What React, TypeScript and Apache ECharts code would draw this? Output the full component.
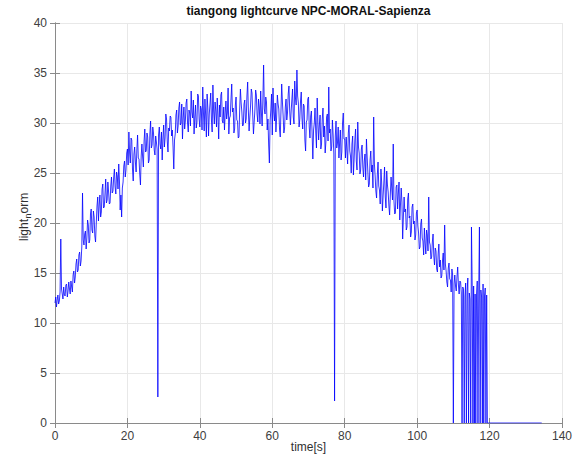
import React, { useEffect, useRef } from "react";
import * as echarts from "echarts";

// sampling step of the light curve (seconds)
const sampleStep = 0.2;

// normalised light values, one every 0.2 s starting at t = 0 (up to 119.8 s)
const light: number[] = [
  // 0 - 3.8
  12.0, 12.6, 11.6, 12.3, 12.8, 11.9, 12.2, 13.1, 18.4, 13.4, 12.9, 12.4, 13.6, 12.8, 12.7, 13.8, 13.9, 12.6, 13.2, 14.1,
  // 4 - 7.8
  13.4, 12.9, 14.2, 13.6, 13.1, 14.8, 15.2, 14.0, 14.6, 15.9, 16.4, 15.1, 15.3, 16.8, 17.1, 15.7, 16.2, 17.6, 23.0, 18.3,
  // 8 - 11.8
  17.8, 18.9, 19.2, 17.4, 18.5, 20.3, 19.8, 18.0, 18.3, 20.9, 21.4, 19.3, 19.0, 21.2, 20.6, 18.7, 18.1, 20.0, 21.7, 22.6,
  // 12 - 15.8
  20.2, 21.8, 22.8, 20.6, 21.1, 23.4, 23.9, 21.5, 21.6, 22.9, 24.4, 22.0, 22.3, 24.1, 23.1, 21.9, 22.0, 23.7, 24.6, 23.0,
  // 16 - 19.8
  23.2, 24.5, 25.4, 23.6, 22.9, 25.1, 24.7, 23.4, 25.9, 24.2, 21.3, 22.8, 20.6, 23.5, 24.1, 25.7, 26.2, 24.6, 25.3, 27.0,
  // 20 - 23.8
  27.4, 25.8, 29.1, 27.0, 26.0, 28.5, 28.3, 25.4, 24.2, 26.9, 27.6, 26.1, 25.1, 27.3, 28.8, 26.5, 26.4, 24.9, 23.8, 26.7,
  // 24 - 27.8
  27.9, 26.6, 25.6, 28.2, 29.4, 27.1, 27.2, 29.0, 28.6, 26.0, 26.3, 28.9, 30.2, 27.5, 27.8, 29.6, 29.0, 27.3, 26.8, 28.7,
  // 28 - 31.8
  28.1, 27.4, 2.6, 28.8, 29.6, 27.9, 27.4, 29.1, 26.3, 28.4, 29.8, 27.6, 28.5, 30.9, 30.4, 28.2, 27.1, 29.5, 29.2, 30.7,
  // 32 - 35.8
  30.6, 28.7, 29.3, 27.6, 25.4, 28.3, 28.9, 30.8, 31.3, 29.0, 29.7, 31.5, 32.1, 29.8, 30.0, 31.9, 28.4, 30.5, 31.6, 29.4,
  // 36 - 39.8
  30.2, 32.0, 32.4, 30.0, 29.1, 31.3, 31.0, 29.7, 33.2, 31.1, 30.5, 32.3, 28.9, 30.6, 31.8, 29.5, 30.1, 32.9, 32.7, 30.4,
  // 40 - 43.8
  29.6, 31.7, 31.4, 29.3, 33.6, 31.0, 29.2, 32.4, 30.8, 28.6, 32.9, 31.5, 28.7, 30.9, 31.9, 33.0, 30.3, 29.1, 33.8, 31.2,
  // 44 - 47.8
  29.9, 32.1, 31.2, 29.6, 32.5, 30.7, 28.4, 31.8, 30.6, 32.8, 33.1, 30.2, 30.0, 31.6, 29.3, 31.0, 32.2, 30.4, 31.0, 33.5,
  // 48 - 51.8
  28.9, 30.5, 30.7, 32.4, 33.9, 31.1, 31.5, 29.0, 29.4, 31.8, 32.6, 30.3, 30.2, 28.5, 28.6, 31.4, 33.4, 32.0, 31.1, 29.7,
  // 52 - 55.8
  29.8, 31.9, 32.3, 30.0, 30.4, 32.7, 34.1, 31.2, 29.2, 30.6, 31.7, 33.4, 33.0, 30.8, 28.9, 30.1, 31.3, 33.3, 32.8, 30.9,
  // 56 - 59.8
  30.1, 32.4, 31.6, 29.9, 33.2, 31.0, 29.7, 32.3, 35.8, 31.4, 30.9, 32.6, 32.1, 29.3, 30.4, 27.8, 26.0, 30.2, 31.3, 32.9,
  // 60 - 63.8
  28.8, 33.5, 31.1, 30.2, 32.0, 29.1, 30.6, 32.8, 31.9, 31.4, 29.4, 28.6, 31.2, 33.9, 32.1, 30.7, 29.0, 29.5, 31.6, 32.4,
  // 64 - 67.8
  30.3, 31.0, 32.9, 33.7, 31.3, 29.8, 31.1, 32.3, 33.4, 30.6, 29.9, 34.2, 32.5, 31.8, 35.3, 32.7, 32.0, 29.6, 30.4, 32.2,
  // 68 - 71.8
  33.1, 30.5, 29.4, 31.9, 31.7, 28.3, 27.2, 30.1, 30.3, 32.4, 32.6, 29.6, 28.5, 30.7, 31.2, 28.9, 26.4, 29.3, 30.0, 31.5,
  // 72 - 75.8
  29.1, 27.5, 32.5, 30.0, 28.3, 29.8, 30.8, 27.4, 27.9, 30.4, 31.5, 28.6, 29.7, 27.0, 28.1, 30.6, 30.9, 28.2, 33.6, 29.0,
  // 76 - 79.8
  29.4, 27.2, 27.6, 30.3, 28.8, 26.9, 2.2, 28.7, 30.2, 27.5, 28.0, 29.6, 26.5, 28.1, 29.3, 26.3, 27.1, 30.0, 31.0, 28.4,
  // 80 - 83.8
  28.4, 26.5, 28.6, 27.3, 25.9, 29.0, 29.8, 27.2, 26.7, 25.0, 27.9, 28.7, 24.8, 26.4, 28.3, 29.4, 26.2, 25.3, 30.1, 27.6,
  // 84 - 87.8
  27.0, 24.9, 25.3, 27.4, 27.8, 25.6, 24.6, 26.2, 26.9, 24.3, 28.4, 26.6, 25.0, 23.6, 23.9, 26.3, 27.2, 25.1, 25.8, 23.5,
  // 88 - 91.8
  30.6, 25.9, 24.7, 23.2, 22.5, 24.8, 26.1, 23.7, 23.3, 21.9, 25.4, 24.1, 21.2, 22.7, 24.0, 25.6, 22.6, 21.5, 25.2, 23.8,
  // 92 - 95.8
  23.1, 21.7, 20.8, 22.9, 24.6, 23.4, 22.3, 27.9, 22.2, 20.9, 21.0, 23.6, 23.8, 21.4, 22.9, 24.1, 20.3, 21.8, 23.5, 22.1,
  // 96 - 99.8
  18.4, 20.6, 22.6, 21.1, 21.4, 19.3, 19.6, 22.4, 23.0, 20.5, 20.7, 18.6, 19.1, 21.6, 21.9, 19.9, 20.2, 18.3, 18.8, 21.0,
  // 100 - 103.8
  21.3, 19.7, 19.0, 17.4, 17.6, 19.9, 20.4, 18.5, 18.2, 16.8, 19.5, 18.0, 16.9, 19.3, 18.8, 17.2, 22.6, 18.1, 17.8, 16.4,
  // 104 - 107.8
  16.6, 18.1, 18.9, 16.7, 15.8, 17.5, 17.2, 15.4, 15.1, 16.9, 17.9, 15.6, 16.3, 14.5, 14.7, 16.2, 17.0, 15.3, 19.8, 15.9,
  // 108 - 111.8
  15.2, 14.1, 13.6, 15.5, 16.0, 14.4, 14.3, 13.1, 15.4, 14.8, 0, 13.9, 14.8, 13.7, 13.2, 14.6, 15.6, 13.8, 12.9, 14.2,
  // 112 - 115.8
  14.1, 13.0, 0, 13.6, 13.4, 0, 12.6, 14.0, 0, 13.2, 14.5, 0, 13.0, 12.4, 0, 19.6, 13.8, 0, 13.7, 0,
  // 116 - 119.8
  12.9, 0, 12.8, 14.2, 0, 13.1, 19.6, 0, 13.3, 12.6, 0, 13.9, 0, 12.7, 13.5, 0, 12.8, 0, 0, 0,
];

// flat zero tail after the signal is lost
const tailTime: number[] = [120.0, 134.4];
const tailLight: number[] = [0, 0];

const xTicks = { min: 0, max: 140, interval: 20 };
const yTicks = { min: 0, max: 40, interval: 5 };

const titleText = "tiangong lightcurve NPC-MORAL-Sapienza";
const xLabel = "time[s]";

const FONT = "'Liberation Sans', Arial, Helvetica, sans-serif";
const AXIS_COLOR = "#8a8a8a";
const LABEL_COLOR = "#404040";
const GRID_COLOR = "#e8e8e8";

export default function App() {
  const ref = useRef<HTMLDivElement>(null);

  useEffect(() => {
    if (!ref.current) return;
    const chart = echarts.init(ref.current, undefined, { renderer: "svg" });
    const data: number[][] = light.map((v, i) => [Number((i * sampleStep).toFixed(1)), v]);
    tailTime.forEach((t, i) => data.push([t, tailLight[i]]));

    const axisCommon = {
      type: "value" as const,
      axisLine: { show: true, lineStyle: { color: AXIS_COLOR, width: 1 } },
      axisTick: { show: true, inside: true, length: 5, lineStyle: { color: AXIS_COLOR } },
    };

    chart.setOption({
      animation: false,
      backgroundColor: "#ffffff",
      textStyle: { fontFamily: FONT },
      grid: { left: 55, right: 14, top: 23, bottom: 34, containLabel: false },
      xAxis: [
        {
          ...axisCommon,
          position: "bottom",
          ...xTicks,
          axisLabel: { color: LABEL_COLOR, fontSize: 12, margin: 7, fontFamily: FONT },
          splitLine: { show: true, lineStyle: { color: GRID_COLOR, width: 1 } },
        },
        {
          ...axisCommon,
          position: "top",
          ...xTicks,
          axisLabel: { show: false },
          splitLine: { show: false },
        },
      ],
      yAxis: [
        {
          ...axisCommon,
          position: "left",
          ...yTicks,
          axisLabel: { color: LABEL_COLOR, fontSize: 12, margin: 8, fontFamily: FONT },
          splitLine: { show: true, lineStyle: { color: GRID_COLOR, width: 1 } },
        },
        {
          ...axisCommon,
          position: "right",
          ...yTicks,
          axisLabel: { show: false },
          splitLine: { show: false },
        },
      ],
      series: [
        {
          type: "line",
          xAxisIndex: 0,
          yAxisIndex: 0,
          data,
          showSymbol: false,
          symbol: "none",
          lineStyle: { color: "#0000ff", width: 0.8 },
          itemStyle: { color: "#0000ff" },
          z: 3,
        },
      ],
      graphic: [
        {
          type: "text",
          x: 308.5,
          y: 11,
          style: {
            text: titleText,
            fontFamily: FONT,
            fontSize: 12,
            fontWeight: "bold",
            fill: "#111111",
            align: "center",
            verticalAlign: "middle",
          },
        },
        {
          type: "text",
          x: 308.5,
          y: 447,
          style: {
            text: xLabel,
            fontFamily: FONT,
            fontSize: 12,
            fill: "#303030",
            align: "center",
            verticalAlign: "middle",
          },
        },
        {
          type: "group",
          x: 24,
          y: 241,
          rotation: Math.PI / 2,
          children: [
            {
              type: "text",
              x: 0,
              y: 0,
              style: { text: "light", fontFamily: FONT, fontSize: 12, fill: "#303030", align: "left", verticalAlign: "middle" },
            },
            {
              type: "text",
              x: 22.5,
              y: 4,
              style: { text: "n", fontFamily: FONT, fontSize: 9, fill: "#303030", align: "left", verticalAlign: "middle" },
            },
            {
              type: "text",
              x: 27.5,
              y: 0,
              style: { text: "orm", fontFamily: FONT, fontSize: 12, fill: "#303030", align: "left", verticalAlign: "middle" },
            },
          ],
        },
      ],
    });

    return () => chart.dispose();
  }, []);

  return (
    <div
      ref={ref}
      style={{ position: "fixed", left: 0, top: 0, width: 576, height: 457, background: "#fff" }}
    />
  );
}
